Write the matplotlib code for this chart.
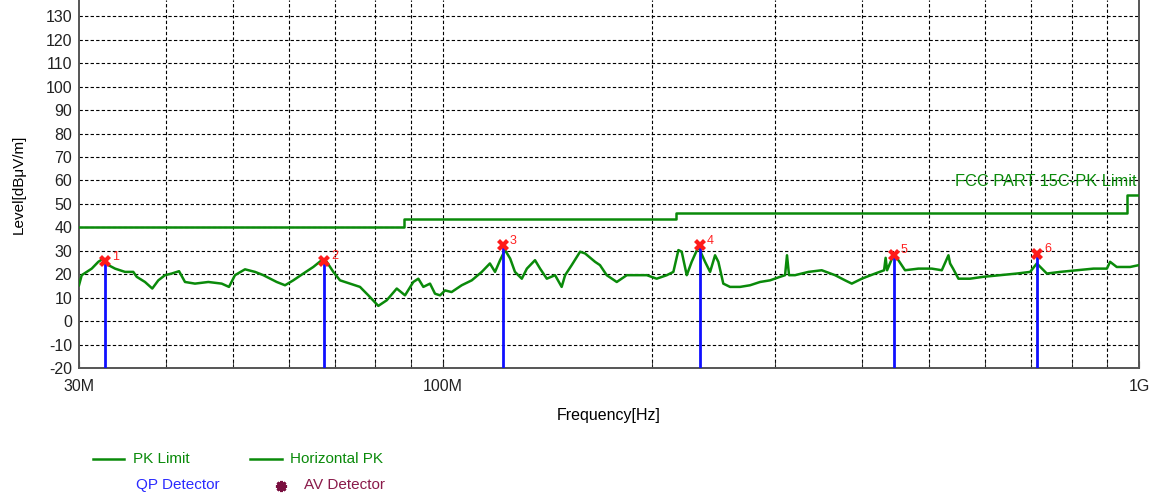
import matplotlib
matplotlib.use('Agg')
import matplotlib.pyplot as plt
from matplotlib.lines import Line2D
from matplotlib.ticker import FixedLocator, NullFormatter

plt.rcParams['font.family'] = ['Liberation Sans', 'DejaVu Sans']
plt.rcParams['axes.unicode_minus'] = False

# measured trace (Horizontal PK), frequency in MHz / level in dBuV/m
freq_mhz = [30.0, 30.27, 30.77, 31.29, 31.98, 32.51, 33.06, 33.80, 34.93, 35.90,
            36.31, 37.32, 38.23, 39.00, 39.88, 40.77, 41.77, 42.60, 44.03, 46.02,
            48.10, 49.27, 50.26, 51.95, 53.71, 55.20, 57.70, 59.31, 60.95, 63.01,
            65.12, 66.96, 68.08, 69.58, 71.14, 73.54, 76.00, 78.13, 80.75, 83.03,
            85.83, 88.21, 90.66, 92.18, 93.72, 95.81, 97.41, 99.04, 100.7, 102.9,
            106.4, 110.0, 113.7, 116.8, 118.8, 120.8, 122.8, 124.9, 126.9, 129.8,
            132.0, 135.6, 137.9, 141.0, 144.9, 148.1, 149.8, 153.1, 157.4, 160.0,
            165.4, 168.1, 171.9, 177.7, 183.7, 189.9, 196.3, 202.8, 209.7, 214.3,
            217.9, 220.3, 224.0, 227.7, 232.8, 238.0, 242.0, 246.0, 248.7, 252.8,
            258.5, 267.2, 276.2, 285.5, 295.1, 305.0, 310.1, 312.1, 314.2, 320.5,
            335.0, 350.1, 365.9, 378.2, 386.7, 399.7, 417.7, 430.3, 432.5, 434.6,
            443.7, 451.1, 461.2, 482.0, 503.9, 520.8, 532.4, 535.3, 540.6, 550.3,
            571.8, 597.5, 631.5, 667.5, 697.6, 713.2, 737.2, 770.3, 814.2, 860.2,
            899.2, 908.8, 929.0, 971.1, 1000.0]
level = [15.3, 19.6, 21.0, 22.4, 25.3, 26.7, 23.9, 22.4, 21.0, 21.0,
         18.9, 16.7, 13.9, 17.4, 19.6, 20.3, 21.3, 16.7, 16.0, 16.7,
         16.0, 14.6, 19.6, 22.1, 21.0, 19.6, 16.7, 15.3, 17.4, 20.3,
         23.1, 26.0, 25.3, 21.0, 17.4, 16.0, 14.6, 11.0, 6.5, 8.9,
         13.9, 11.0, 16.7, 18.1, 14.6, 16.0, 11.7, 11.0, 13.1, 12.4,
         15.3, 17.4, 21.0, 24.6, 21.0, 26.0, 30.3, 26.7, 21.0, 18.1,
         22.4, 26.0, 22.4, 18.1, 19.6, 14.6, 19.6, 23.9, 29.6, 28.9,
         25.3, 23.9, 19.6, 16.7, 19.6, 19.6, 19.6, 18.1, 19.6, 21.0,
         30.3, 29.6, 19.6, 25.3, 31.7, 25.3, 21.0, 28.1, 25.3, 16.0,
         14.6, 14.6, 15.3, 16.7, 17.4, 18.9, 19.6, 28.1, 19.6, 19.6,
         21.0, 21.7, 19.6, 17.4, 16.0, 18.1, 20.3, 21.7, 27.0, 21.7,
         28.1, 26.0, 21.7, 22.4, 22.4, 21.7, 28.1, 24.6, 22.4, 18.1,
         18.1, 18.9, 19.6, 20.3, 21.0, 24.6, 20.3, 21.0, 21.7, 22.4,
         22.4, 25.3, 23.1, 23.1, 23.9]

# FCC Part 15C PK limit steps
limit_freq_mhz = [30, 88, 88, 216, 216, 960, 960, 1000]
limit_level = [40, 40, 43.5, 43.5, 46, 46, 54, 54]

# QP detector markers
mark_freq_mhz = [32.69, 67.47, 122.0, 234.1, 444.6, 713.8]
mark_level = [25.6, 25.8, 32.4, 32.5, 28.3, 28.7]
mark_names = ['1', '2', '3', '4', '5', '6']

yticks = list(range(-20, 131, 10))
xmajor = [30e6, 100e6, 1e9]
xmajor_labels = ['30M', '100M', '1G']
xminor = [m * 1e6 for m in (40, 50, 60, 70, 80, 90, 200, 300, 400, 500, 600, 700, 800, 900)]

GREEN = '#0a8a0a'

fig = plt.figure(figsize=(11.6, 4.97), dpi=100)
ax = fig.add_axes([79 / 1160, 1 - 368 / 497, 1060 / 1160, 368 / 497])

ax.set_xscale('log')
ax.set_xlim(30e6, 1e9)
ax.set_ylim(-20, 137)

for v in yticks:
    ax.axhline(v, color='black', lw=0.8, ls=(0, (3, 2)), zorder=1)
for v in xminor + [100e6]:
    ax.axvline(v, color='black', lw=0.8, ls=(0, (3, 2)), zorder=1)

ax.plot([f * 1e6 for f in limit_freq_mhz], limit_level, color=GREEN, lw=1.8, zorder=3)
ax.plot([f * 1e6 for f in freq_mhz], level, color=GREEN, lw=1.8, zorder=3)

for f, l, n in zip(mark_freq_mhz, mark_level, mark_names):
    ax.plot([f * 1e6, f * 1e6], [-20, l], color='#1010ff', lw=2, zorder=4)
    ax.plot(f * 1e6, l, marker='X', color='#ff1a1a', ms=9, mew=0, zorder=5)
    ax.annotate(n, (f * 1e6, l), xytext=(5, 1), textcoords='offset points',
                color='#ff2020', fontsize=9)

ax.text(993e6, 59.6, 'FCC PART 15C-PK Limit', color=GREEN, fontsize=11.8,
        ha='right', va='center', zorder=6)

ax.set_yticks(yticks)
ax.xaxis.set_major_locator(FixedLocator(xmajor))
ax.set_xticklabels(xmajor_labels)
ax.xaxis.set_minor_locator(FixedLocator(xminor))
ax.xaxis.set_minor_formatter(NullFormatter())
ax.tick_params(axis='both', which='both', direction='in', labelsize=11.5, colors='#222222')
ax.tick_params(axis='x', which='both', length=5, pad=8)
ax.tick_params(axis='y', length=0, pad=5)

ax.spines['top'].set_visible(False)
for s in ('left', 'right', 'bottom'):
    ax.spines[s].set_color('#555555')
    ax.spines[s].set_linewidth(1.4)

ax.set_ylabel('Level[dBμV/m]', fontsize=11, labelpad=14)
ax.set_xlabel('Frequency[Hz]', fontsize=11.5, labelpad=10)

# legend block under the chart
def fx(px):
    return px / 1160

def fy(py):
    return 1 - py / 497

fig.add_artist(Line2D([fx(93), fx(124)], [fy(459), fy(459)], color=GREEN, lw=1.8))
fig.text(fx(133), fy(459), 'PK Limit', color=GREEN, fontsize=11, va='center')
fig.add_artist(Line2D([fx(250), fx(282)], [fy(459), fy(459)], color=GREEN, lw=1.8))
fig.text(fx(290), fy(459), 'Horizontal PK', color=GREEN, fontsize=11, va='center')
fig.text(fx(136), fy(485), 'QP Detector', color='#2a2aff', fontsize=11, va='center')
fig.add_artist(Line2D([fx(281)], [fy(486)], marker=(8, 2, 0), color='#7a1040',
                      ms=8, mew=2, ls='none'))
fig.text(fx(304), fy(485), 'AV Detector', color='#8a1a4a', fontsize=11, va='center')

fig.savefig('out.png', dpi=100)
